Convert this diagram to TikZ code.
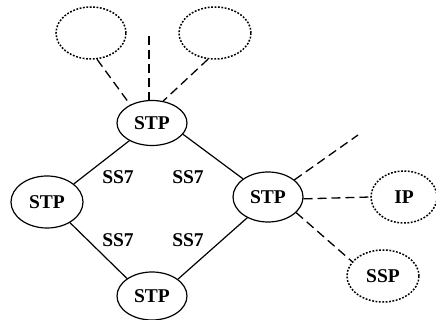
\documentclass[tikz,border=0pt]{standalone}
\usepackage{fontspec}
\setmainfont{Liberation Serif}
\usetikzlibrary{shapes.geometric}
\begin{document}
\begin{tikzpicture}[x=1pt,y=-1pt,
  every node/.style={font=\fontsize{19.5}{19.5}\selectfont\bfseries},
  stpnode/.style={ellipse,draw,line width=1.2pt,inner sep=0pt},
  farnode/.style={ellipse,draw,line width=1.5pt,dash pattern=on 1.8pt off 1.6pt,inner sep=0pt},
  link/.style={line width=1.2pt},
  spur/.style={line width=1.3pt,dash pattern=on 9pt off 5pt},
  lbl/.style={inner sep=0pt}]
\useasboundingbox (0,0) rectangle (436,320);
\clip (0,0) rectangle (436,320);

% signalling transfer points
\node[stpnode,minimum width=70pt,minimum height=45pt] (top) at (152,123) {STP};
\node[stpnode,minimum width=72pt,minimum height=52pt] (left) at (47,202) {STP};
\node[stpnode,minimum width=70pt,minimum height=48pt] (bot) at (152,296) {STP};
\node[stpnode,minimum width=70pt,minimum height=50pt] (right) at (268,197) {STP};

% attached nodes
\node[farnode,minimum width=66pt,minimum height=52pt] (ip) at (404,197) {IP};
\node[farnode,minimum width=72pt,minimum height=52pt] (ssp) at (383,276) {SSP};
\node[farnode,minimum width=70pt,minimum height=52pt] (tl) at (91,33) {};
\node[farnode,minimum width=72pt,minimum height=52pt] (tr) at (215,33) {};

% SS7 links
\draw[link] (top.-142) -- (left.34);
\draw[link] (top.-20) -- (right.144);
\draw[link] (left.-42) -- (bot.145);
\draw[link] (bot.33) -- (right.-135);

\node[lbl] (s1) at (118,177) {SS7};
\node[lbl] (s2) at (188,177) {SS7};
\node[lbl] (s3) at (118,240) {SS7};
\node[lbl] (s4) at (188,240) {SS7};

% dashed access links
\coordinate (upend) at (149,36);
\coordinate (rend) at (358,135);
\draw[spur] (tl.-77) -- (top.140);
\draw[spur] (upend) -- (149,101);
\draw[spur] (tr.-105) -- (top.63);
\draw[spur] (right.33) -- (rend);
\draw[spur] (right.-3) -- (ip.west);
\draw[spur] (right.-29) -- (ssp.155);
\end{tikzpicture}
\end{document}
